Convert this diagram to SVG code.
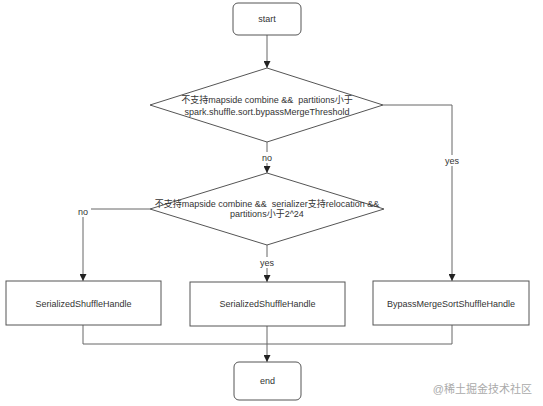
<svg xmlns="http://www.w3.org/2000/svg" width="543" height="406" viewBox="0 0 543 406">
<style>
.shape{fill:#fff;stroke:#555;stroke-width:1}
.edge{fill:none;stroke:#666;stroke-width:1}
text{font-family:"Liberation Sans","Noto Sans CJK SC",sans-serif;font-size:9px;fill:#333;text-anchor:middle;dominant-baseline:central;white-space:pre}
.lbl{fill:#fff;stroke:none}
.wm{font-size:11px;fill:#aaa;text-anchor:end}
</style>
<defs>
<marker id="arr" viewBox="0 0 10 10" refX="10" refY="5" markerWidth="7" markerHeight="7" orient="auto" markerUnits="userSpaceOnUse">
<path d="M0,0 L10,5 L0,10 z" fill="#222"/>
</marker>
</defs>
<rect width="543" height="406" fill="#fff"/>
<g id="connectors">
<path class="edge" d="M267,35 V68" marker-end="url(#arr)"/>
<path class="edge" d="M267,142 V173" marker-end="url(#arr)"/>
<path class="edge" d="M383,105 H452 V281" marker-end="url(#arr)"/>
<path class="edge" d="M150,209 H83 V281" marker-end="url(#arr)"/>
<path class="edge" d="M267,245 V282" marker-end="url(#arr)"/>
<path class="edge" d="M83,325 V344 H452 V325"/>
<path class="edge" d="M267,326 V362" marker-end="url(#arr)"/>
<rect class="lbl" x="259" y="152" width="16" height="11"/>
<text x="267" y="157.5">no</text>
<rect class="lbl" x="442" y="155" width="20" height="11"/>
<text x="452" y="160.5">yes</text>
<rect class="lbl" x="75" y="206" width="16" height="11"/>
<text x="83" y="211.5">no</text>
<rect class="lbl" x="257" y="257" width="20" height="11"/>
<text x="267" y="262.5">yes</text>
</g>
<g id="start">
<rect class="shape" x="233" y="3" width="68" height="32" rx="5"/>
<text x="267" y="19">start</text>
</g>
<g id="decision1">
<polygon class="shape" points="267,68 383,105 267,142 150,105"/>
<text x="267" y="100" xml:space="preserve">不支持mapside combine &amp;&amp;  partitions小于</text>
<text x="267" y="112">spark.shuffle.sort.bypassMergeThreshold</text>
</g>
<g id="decision2">
<polygon class="shape" points="267,173 384,209 267,245 150,209"/>
<text x="267" y="204" xml:space="preserve">不支持mapside combine &amp;&amp;  serializer支持relocation &amp;&amp;</text>
<text x="267" y="214">partitions小于2^24</text>
</g>
<g id="handle1">
<rect class="shape" x="6" y="281" width="155" height="44"/>
<text x="83.5" y="303.5">SerializedShuffleHandle</text>
</g>
<g id="handle2">
<rect class="shape" x="190" y="282" width="155" height="44"/>
<text x="267.5" y="304">SerializedShuffleHandle</text>
</g>
<g id="handle3">
<rect class="shape" x="373" y="281" width="156" height="44"/>
<text x="451" y="303.5">BypassMergeSortShuffleHandle</text>
</g>
<g id="end">
<rect class="shape" x="234" y="362" width="67" height="38" rx="5"/>
<text x="267.5" y="381">end</text>
</g>
<text class="wm" x="532" y="389">@稀土掘金技术社区</text>
</svg>
